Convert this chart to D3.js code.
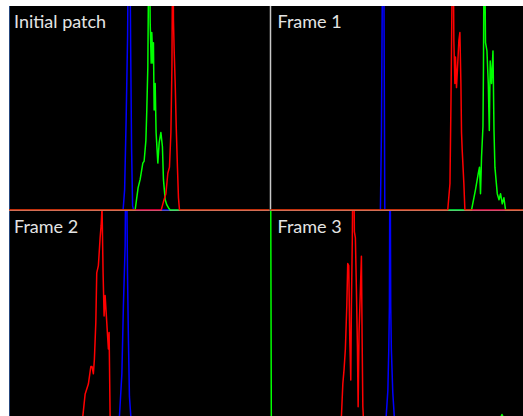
<!DOCTYPE html>
<html><head><meta charset="utf-8">
<script src="https://cdn.jsdelivr.net/npm/d3@7"></script>
<style>
html,body{margin:0;padding:0;background:#fff;}
svg{display:block;}
</style></head>
<body>
<svg id="chart" width="523" height="416"></svg>
<script>
// ---- Data (histogram vertices: [intensity bin, normalized count]) ----
const panelTitles = ["Initial patch", "Frame 1", "Frame 2", "Frame 3"];
const binDomain = [0, 256];

const initBlue  = [[111.7,0],[113.2,0.1],[114.7,0.45],[116.1,0.85],[117.1,1.5],[118.1,1.5],[119.1,0.8],[120,0.3],[121,0.02],[122,0]];
const initGreen = [[123.5,0],[126.4,0.11],[128.4,0.15],[131,0.23],[132.3,0.24],[134,0.34],[134.9,0.49],[135.9,0.70],[137.2,1.5],[138.2,0.92],[139.2,0.72],[139.8,0.87],[140.8,0.72],[141.4,0.82],[142.1,0.49],[143.1,0.62],[144,0.38],[145.7,0.23],[147,0.33],[148.7,0.38],[150.2,0.31],[151.2,0.15],[152.9,0.05],[154.5,0.025],[156.2,0.01],[157.8,0]];
const initRed   = [[149,0],[151.2,0.04],[153.6,0.08],[155.5,0.18],[157.1,0.21],[158.5,0.38],[159.5,0.70],[160.4,1.5],[161,0.93],[161.7,0.78],[162.7,0.62],[163.7,0.41],[164.9,0.21],[165.9,0.06],[166.9,0]];

const frame1Blue  = [[107.6,0],[108.6,0.38],[110,1.5],[110.7,1.5],[111.9,0]];
const frame1Green = [[196.8,0],[200.7,0.1],[203.4,0.18],[204.6,0.21],[205.6,0.08],[206.6,0.26],[208,0.41],[208.5,0.70],[209.2,1.5],[210.5,0.82],[211.9,0.78],[213.2,0.62],[214.2,0.39],[215.1,0.73],[216.4,0.62],[217.8,0.78],[218.8,0.39],[219.7,0.21],[222,0.08],[223.7,0.05],[225.2,0.08],[226.9,0.03],[228.5,0.06],[230.1,0]];
const frame1Red   = [[173.5,0],[175.7,0.13],[176.7,0.54],[178.6,1.5],[179.5,0.83],[180.5,0.62],[181.1,0.75],[182.1,0.60],[183.1,0.70],[184.4,0.83],[185.4,0.87],[186.4,0.62],[187,0.38],[187.7,0.29],[189.3,0.13],[190.3,0]];

const frame2Blue  = [[108.1,0],[110.5,0.21],[112,0.54],[113.7,0.83],[114.7,1.5],[116,0.70],[116.9,0.38],[117.9,0.1],[119.3,0]];
const frame2Green = [];
const frame2Red   = [[72.2,0],[74.5,0.11],[77.7,0.16],[80.1,0.245],[81.3,0.245],[82.6,0.21],[83.6,0.28],[85,0.46],[85.9,0.70],[87.5,0.735],[89.2,0.87],[90.2,0.93],[91.1,1.02],[92.1,0.70],[93.1,0.49],[94.1,0.59],[95.1,0.51],[96.3,0.41],[97.3,0.33],[98,0.41],[99,0]];

const frame3Blue  = [[113.2,0],[114.9,0.13],[115.8,0.33],[116.4,0.54],[117,1.5],[117.7,0.54],[118.3,0.33],[119.7,0.12],[121.2,0]];
const frame3Green = [[0,1.5],[0.8,0],[225.5,0],[226.6,0.012],[227.8,0]];
const frame3Red   = [[69.4,0],[70.8,0.16],[72,0.23],[73.3,0.33],[74.7,0.54],[75.6,0.745],[76.6,0.735],[77.6,0.38],[78.6,0.18],[79.2,0.54],[80.1,0.87],[81.1,1.5],[82.1,0.90],[83.1,0.87],[84.1,0.62],[85.1,0.34],[85.8,0.05],[86.7,0.41],[88,0.62],[89,0.78],[89.7,0.38],[90.4,0.05],[90.9,0]];

const panelSeries = [
  [initBlue, initGreen, initRed],
  [frame1Blue, frame1Green, frame1Red],
  [frame2Blue, frame2Green, frame2Red],
  [frame3Blue, frame3Green, frame3Red]
];
const channelColors = ["#0000ff", "#00ff00", "#ff0000"];

// ---- Layout ----
const svg = d3.select("#chart");
const W = 523, H = 416;
const gridLeft = 9, gridTop = 6, colW = 261.5, panelH = [204, 206];
const panels = [
  {x: gridLeft, y: gridTop, h: panelH[0]},
  {x: gridLeft + colW, y: gridTop, h: panelH[0]},
  {x: gridLeft, y: gridTop + panelH[0] + 1, h: panelH[1]},
  {x: gridLeft + colW, y: gridTop + panelH[0] + 1, h: panelH[1]}
];

svg.append("rect").attr("x", gridLeft).attr("y", gridTop)
  .attr("width", W - gridLeft).attr("height", H - gridTop).attr("fill", "#000");

// left border line
svg.append("line").attr("x1", gridLeft + 0.5).attr("x2", gridLeft + 0.5)
  .attr("y1", gridTop).attr("y2", H).attr("stroke", "#26477e").attr("stroke-width", 1);

// vertical divider (top row)
svg.append("line").attr("x1", gridLeft + colW).attr("x2", gridLeft + colW)
  .attr("y1", gridTop).attr("y2", gridTop + panelH[0]).attr("stroke", "#c8c8c8").attr("stroke-width", 1.5);

const defs = svg.append("defs");

panels.forEach((p, i) => {
  const x = d3.scaleLinear().domain(binDomain).range([p.x, p.x + colW]);
  const y = d3.scaleLinear().domain([0, 1]).range([p.y + p.h, p.y]);
  defs.append("clipPath").attr("id", "clip" + i).append("rect")
    .attr("x", p.x - 1).attr("y", p.y).attr("width", colW + 1).attr("height", p.h + 1);
  const g = svg.append("g").attr("clip-path", `url(#clip${i})`);
  const line = d3.line().x(d => x(d[0])).y(d => y(d[1]));
  panelSeries[i].forEach((pts, c) => {
    const full = pts.slice();
    if (!full.length || full[0][0] > 0) full.unshift([0, 0]);
    if (full[full.length - 1][0] < 255) full.push([255, 0]);
    g.append("path").datum(full).attr("d", line)
      .attr("fill", "none").attr("stroke", channelColors[c])
      .attr("stroke-width", 1.5).attr("stroke-linejoin", "round");
  });
  svg.append("text").attr("x", p.x + (i % 2 === 0 ? 5 : 7)).attr("y", p.y + 22)
    .attr("fill", "#e4e4e4").attr("font-family", "Lato, 'Open Sans', sans-serif")
    .attr("font-size", 18).text(panelTitles[i]);
});

// horizontal divider (translucent, tints the red baseline pink)
svg.append("line").attr("x1", gridLeft).attr("x2", W)
  .attr("y1", gridTop + panelH[0] + 0.5).attr("y2", gridTop + panelH[0] + 0.5)
  .attr("stroke", "#ffffff").attr("stroke-opacity", 0.3).attr("stroke-width", 1);
</script>
</body></html>
